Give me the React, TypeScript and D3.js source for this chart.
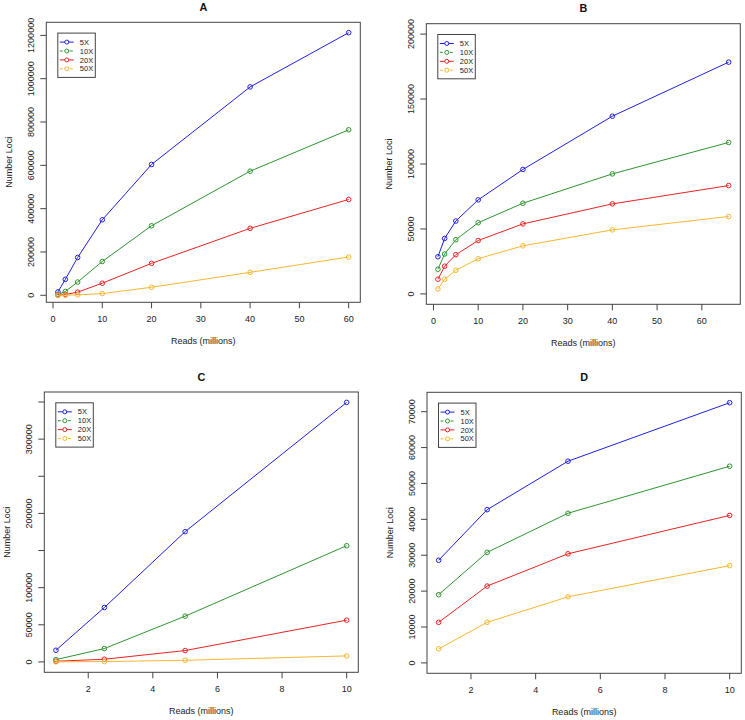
import React from "react";
import * as d3 from "d3";

// ---------- data ----------
const seriesNames = ["5X", "10X", "20X", "50X"];

const readsA = [1, 2.5, 5, 10, 20, 40, 60];
const a5X = [15500, 73600, 174500, 348500, 604000, 962000, 1212500];
const a10X = [3100, 17800, 61000, 156000, 321000, 573000, 764000];
const a20X = [900, 3500, 14500, 55800, 147500, 309000, 442500];
const a50X = [100, 500, 2000, 7800, 37000, 106000, 176700];

const readsB = [1, 2.5, 5, 10, 20, 40, 66];
const b5X = [28600, 42700, 56100, 72400, 95800, 136800, 178400];
const b10X = [19000, 30700, 41700, 54800, 69800, 92400, 116600];
const b20X = [11300, 21300, 30200, 41100, 53900, 69300, 83400];
const b50X = [3800, 11200, 18200, 27100, 37000, 49300, 59600];

const readsC = [1, 2.5, 5, 10];
const c5X = [15700, 73300, 175400, 349500];
const c10X = [3100, 18000, 61600, 156500];
const c20X = [900, 3600, 15300, 56200];
const c50X = [100, 500, 2200, 8100];

const readsD = [1, 2.5, 5, 10];
const d5X = [28600, 42700, 56200, 72500];
const d10X = [19000, 30800, 41700, 54800];
const d20X = [11300, 21400, 30400, 41100];
const d50X = [3900, 11300, 18400, 27100];

const xTicksAB = [0, 10, 20, 30, 40, 50, 60];
const xTicksCD = [2, 4, 6, 8, 10];

const yTicksA = [0, 200000, 400000, 600000, 800000, 1000000, 1200000];
const yTicksB = [0, 50000, 100000, 150000, 200000];
const yTicksC = [0, 50000, 100000, 150000, 200000, 250000, 300000, 350000];
const yTickLabelsC = ["0", "50000", "100000", "", "200000", "", "300000", ""];
const yTicksD = [0, 10000, 20000, 30000, 40000, 50000, 60000, 70000];

const colors = ["#1f1fe0", "#2f952f", "#e82222", "#f7b733"];
const legendDash = [null, "3,2", null, "3,2"];

const FONT = "'Liberation Sans', Arial, Helvetica, sans-serif";
const AXIS = "#444";

type PanelSpec = {
  title: string;
  box: [number, number, number, number]; // left, top, right, bottom
  reads: number[];
  series: number[][];
  ylim: [number, number];
  xTicks: number[];
  yTicks: number[];
  yLabels?: string[];
};

function pad(lim: [number, number]): [number, number] {
  const r = lim[1] - lim[0];
  return [lim[0] - 0.04 * r, lim[1] + 0.04 * r];
}

function Panel({ p }: { p: PanelSpec }) {
  const [L, T, R, B] = p.box;
  const x = d3.scaleLinear().domain(pad(d3.extent(p.reads) as [number, number])).range([L, R]);
  const y = d3.scaleLinear().domain(pad(p.ylim)).range([B, T]);
  const line = d3
    .line<number>()
    .x((_, i) => x(p.reads[i]))
    .y((d) => y(d));
  const cx = (L + R) / 2;
  const cy = (T + B) / 2;
  const lgL = L + 11.5;
  const lgT = T + 10.8;
  return (
    <g>
      <text x={cx} y={T - 11.3} textAnchor="middle" fontWeight="bold" fontSize={10.8} fill="#111">
        {p.title}
      </text>
      {/* series */}
      {p.series.map((s, si) => (
        <g key={si}>
          <path d={line(s) || ""} fill="none" stroke={colors[si]} strokeWidth={1} />
          {s.map((v, i) => (
            <circle key={i} cx={x(p.reads[i])} cy={y(v)} r={2.3} fill="none" stroke={colors[si]} strokeWidth={1} />
          ))}
        </g>
      ))}
      {/* box */}
      <rect x={L} y={T} width={R - L} height={B - T} fill="none" stroke={AXIS} strokeWidth={1} />
      {/* x axis */}
      {p.xTicks.map((t) => (
        <g key={"x" + t}>
          <line x1={x(t)} x2={x(t)} y1={B} y2={B + 6} stroke={AXIS} strokeWidth={1} />
          <text x={x(t)} y={B + 17} dy="0.35em" textAnchor="middle" fontSize={9} fill="#222">
            {t}
          </text>
        </g>
      ))}
      <text x={cx} y={B + 39} dy="0.35em" textAnchor="middle" fontSize={9} fill="#222">
        Reads (millions)
      </text>
      {/* y axis */}
      {p.yTicks.map((t, i) => (
        <g key={"y" + t}>
          <line x1={L - 6} x2={L} y1={y(t)} y2={y(t)} stroke={AXIS} strokeWidth={1} />
          <text
            transform={`translate(${L - 15.5},${y(t)}) rotate(-90)`}
            dy="0.35em"
            textAnchor="middle"
            fontSize={9}
            fill="#222"
          >
            {p.yLabels ? p.yLabels[i] : String(t)}
          </text>
        </g>
      ))}
      <text
        transform={`translate(${L - 37.5},${cy}) rotate(-90)`}
        dy="0.35em"
        textAnchor="middle"
        fontSize={9}
        fill="#222"
      >
        Number Loci
      </text>
      {/* legend */}
      <rect x={lgL} y={lgT} width={37.5} height={44.3} fill="white" stroke={AXIS} strokeWidth={1} />
      {seriesNames.map((n, i) => {
        const ry = lgT + 9 + i * 8.9;
        return (
          <g key={n}>
            <line
              x1={lgL + 2}
              x2={lgL + 16}
              y1={ry}
              y2={ry}
              stroke={colors[i]}
              strokeWidth={1}
              strokeDasharray={legendDash[i] || undefined}
            />
            <circle cx={lgL + 9} cy={ry} r={2} fill="white" stroke={colors[i]} strokeWidth={1} />
            <text x={lgL + 22} y={ry} dy="0.35em" fontSize={7.5} fill="#222">
              {n}
            </text>
          </g>
        );
      })}
    </g>
  );
}

export default function App() {
  const panels: PanelSpec[] = [
    {
      title: "A",
      box: [46.3, 22.3, 360.3, 302.3],
      reads: readsA,
      series: [a5X, a10X, a20X, a50X],
      ylim: d3.extent(a5X) as [number, number],
      xTicks: xTicksAB,
      yTicks: yTicksA,
    },
    {
      title: "B",
      box: [426.3, 23.7, 740.3, 304.3],
      reads: readsB,
      series: [b5X, b10X, b20X, b50X],
      ylim: [0, 200000],
      xTicks: xTicksAB,
      yTicks: yTicksB,
    },
    {
      title: "C",
      box: [44.3, 392, 358.3, 672.3],
      reads: readsC,
      series: [c5X, c10X, c20X, c50X],
      ylim: [0, d3.max(c5X) as number],
      xTicks: xTicksCD,
      yTicks: yTicksC,
      yLabels: yTickLabelsC,
    },
    {
      title: "D",
      box: [427, 392.3, 741.3, 673.3],
      reads: readsD,
      series: [d5X, d10X, d20X, d50X],
      ylim: [0, d3.max(d5X) as number],
      xTicks: xTicksCD,
      yTicks: yTicksD,
    },
  ];
  return (
    <svg
      width={745}
      height={720}
      style={{ position: "absolute", left: 0, top: 0, background: "white" }}
      fontFamily={FONT}
    >
      <rect x={0} y={0} width={745} height={720} fill="white" />
      {panels.map((p) => (
        <Panel key={p.title} p={p} />
      ))}
    </svg>
  );
}
